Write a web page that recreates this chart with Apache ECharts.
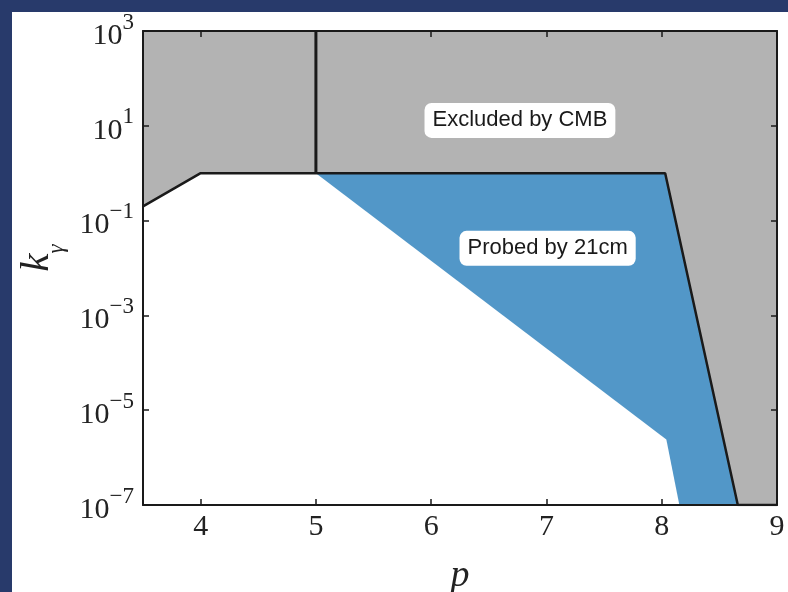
<!DOCTYPE html>
<html><head><meta charset="utf-8">
<script src="https://cdn.jsdelivr.net/npm/echarts@6/dist/echarts.min.js"></script>
<style>
html,body{margin:0;padding:0;background:#283a6b;width:788px;height:592px;overflow:hidden}
#chart{position:absolute;left:12px;top:12px;width:776px;height:580px;background:#fff}
</style></head><body><div id="chart"></div>
<script>
// tick positions
const xTicks = [4, 5, 6, 7, 8, 9];
const yTickExps = [-7, -5, -3, -1, 1, 3];
// CMB exclusion boundary (p, k_gamma)
const cmbP = [3.5, 4, 8.03, 8.66, 9];
const cmbK = [0.2, 1, 1, 1e-7, 1e-7];
// 21cm probed region: upper edge
const probeUpperP = [5, 8.03, 8.66];
const probeUpperK = [1, 1, 1e-7];
// allowed (unprobed) region: upper edge
const allowedP = [3.5, 4, 5, 8.04, 8.153];
const allowedK = [0.2, 1, 1, 2.4e-6, 1e-7];
// vertical divider at p = 5
const dividerP = [5, 5];
const dividerK = [1, 1e3];
// annotations
const noteText = ['Excluded by CMB', 'Probed by 21cm'];
const noteP = [6.77, 7.01];
const noteK = [13, 0.026];

const toPts = (P, K) => P.map((p, i) => [p, Math.log10(K[i])]);
const GRAY = '#b3b3b3', BLUE = '#5297c8', INK = '#1a1a1a';
const SERIF = '"Liberation Serif", "DejaVu Serif", serif';

const chart = echarts.init(document.getElementById('chart'), null, {renderer: 'canvas'});
const tickStyle = {show: true, inside: true, length: 6, lineStyle: {color: INK, width: 1.5}};
const lineStyleAx = {show: true, onZero: false, lineStyle: {color: INK, width: 2}};
const supFmt = v => '{b|10}{s|' + (v < 0 ? '\u2212' + (-v) : v) + '}';

chart.setOption({
  animation: false,
  grid: {left: 131, top: 19, right: 11, bottom: 87, containLabel: false, outerBoundsMode: 'none'},
  xAxis: [{
    type: 'value', min: 3.5, max: 9, position: 'bottom', z: 5,
    axisLine: lineStyleAx,
    axisTick: Object.assign({customValues: xTicks}, tickStyle),
    axisLabel: {customValues: xTicks, margin: 7, fontFamily: SERIF, fontSize: 30, color: '#222'},
    splitLine: {show: false},
    name: 'p', nameLocation: 'middle', nameGap: 52,
    nameTextStyle: {fontFamily: SERIF, fontStyle: 'italic', fontSize: 38, color: '#222'}
  }, {
    type: 'value', min: 3.5, max: 9, position: 'top', z: 5,
    axisLine: lineStyleAx,
    axisTick: Object.assign({customValues: xTicks}, tickStyle),
    axisLabel: {show: false}, splitLine: {show: false}
  }],
  yAxis: [{
    type: 'value', min: -7, max: 3, position: 'left', z: 5,
    axisLine: lineStyleAx,
    axisTick: Object.assign({customValues: yTickExps}, tickStyle),
    axisLabel: {
      customValues: yTickExps, margin: 9, formatter: supFmt,
      rich: {
        b: {fontFamily: SERIF, fontSize: 30, lineHeight: 40, verticalAlign: 'bottom', color: '#222'},
        s: {fontFamily: SERIF, fontSize: 23, lineHeight: 24, verticalAlign: 'top', color: '#222'}
      }
    },
    splitLine: {show: false},
    name: '{k|k}{g|\u03b3}', nameLocation: 'middle', nameGap: 68, nameRotate: 90,
    nameTextStyle: {
      padding: [0, 0, 0, 20],
      rich: {
        k: {fontFamily: SERIF, fontStyle: 'italic', fontSize: 41, lineHeight: 52, verticalAlign: 'top', color: '#222'},
        g: {fontFamily: SERIF, fontStyle: 'italic', fontSize: 23, lineHeight: 23, verticalAlign: 'bottom', color: '#222'}
      }
    }
  }, {
    type: 'value', min: -7, max: 3, position: 'right', z: 5,
    axisLine: lineStyleAx,
    axisTick: Object.assign({customValues: yTickExps}, tickStyle),
    axisLabel: {show: false}, splitLine: {show: false}
  }],
  series: [{
    type: 'line', name: 'excluded', data: toPts(cmbP, cmbK), symbol: 'none',
    lineStyle: {width: 0}, areaStyle: {color: GRAY, opacity: 1, origin: 'end'}, z: 1
  }, {
    type: 'line', name: 'probed', data: toPts(probeUpperP, probeUpperK), symbol: 'none',
    lineStyle: {width: 0}, areaStyle: {color: BLUE, opacity: 1, origin: 'start'}, z: 1
  }, {
    type: 'line', name: 'allowed', data: toPts(allowedP, allowedK), symbol: 'none',
    lineStyle: {width: 0}, areaStyle: {color: '#ffffff', opacity: 1, origin: 'start'}, z: 1
  }, {
    type: 'line', name: 'boundary', data: toPts(cmbP, cmbK), symbol: 'none',
    lineStyle: {color: INK, width: 2.5}, z: 3
  }, {
    type: 'line', name: 'divider', data: toPts(dividerP, dividerK), symbol: 'none',
    lineStyle: {color: INK, width: 3}, z: 3
  }, {
    type: 'scatter', name: 'notes', symbolSize: 0, z: 4,
    itemStyle: {opacity: 1},
    data: noteText.map((t, i) => ({name: t, value: [noteP[i], Math.log10(noteK[i])]})),
    label: {
      show: true, position: 'inside', formatter: p => p.name,
      fontFamily: '"Liberation Sans", Arial, sans-serif', fontSize: 22, color: '#1a1a1a',
      backgroundColor: '#fff', borderRadius: 7, padding: [7, 8, 6, 8]
    }
  }]
});
</script></body></html>
